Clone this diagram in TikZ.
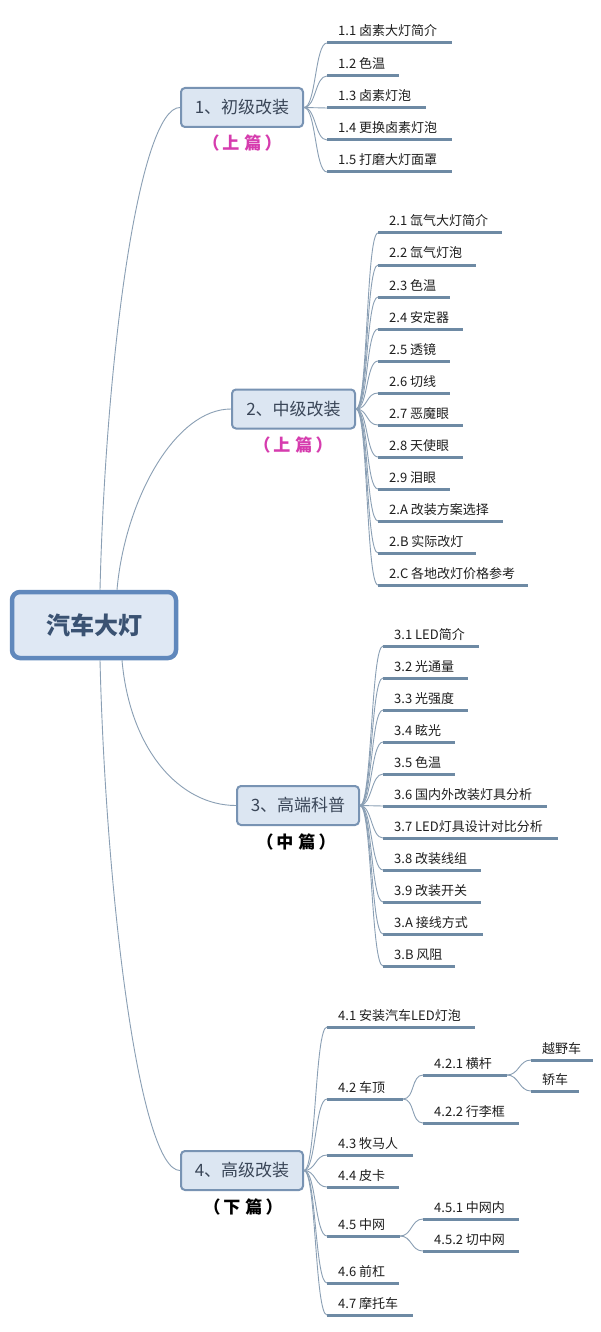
\documentclass[tikz,border=0pt]{standalone}
\usepackage{fontspec}
\setmainfont{Noto Sans CJK SC}
\usetikzlibrary{calc}
\definecolor{conncol}{HTML}{8A9FB4}
\definecolor{ulcol}{HTML}{6E8AA4}
\definecolor{boxfill}{HTML}{DCE6F2}
\definecolor{boxdraw}{HTML}{7893B3}
\definecolor{boxtext}{HTML}{3A4658}
\definecolor{rootfill}{HTML}{DFE8F4}
\definecolor{rootdraw}{HTML}{6088BC}
\definecolor{roottext}{HTML}{3A5272}
\definecolor{pinklbl}{HTML}{D63CAE}
\definecolor{leafcol}{HTML}{1E1E1E}
\newcommand\leaf[5]{%
  \coordinate (#1s) at (#2,#4);
  \coordinate (#1e) at (#3,#4);
  \draw[uline] (#1s) -- (#1e);
  \node[leaftext] (#1) at (#2+11,#4-7) {#5};
}
\newcommand\fan[2]{\draw[conn] (#1) .. controls +(12,0) and +(-12,0) .. (#2s);}
\newcommand\pian[1]{（\hspace{3pt}#1\hspace{3pt}）}
\begin{document}
\begin{tikzpicture}[x=1pt,y=-1pt,
  conn/.style={draw=conncol,line width=0.9pt},
  uline/.style={draw=ulcol,line width=3pt},
  leaftext/.style={anchor=base west,inner sep=0pt,font=\fontsize{13}{15}\selectfont,text=leafcol},
  topbox/.style={draw=boxdraw,fill=boxfill,line width=2pt,rounded corners=4pt,minimum height=39pt,inner sep=0pt,font=\fontsize{17}{20}\selectfont,text=boxtext},
  rootbox/.style={draw=rootdraw,fill=rootfill,line width=4.5pt,rounded corners=8pt,minimum width=164pt,minimum height=66pt,inner sep=0pt,font=\fontsize{24}{28}\selectfont\bfseries,text=roottext},
  sublbl/.style={inner sep=0pt,font=\fontsize{17}{19}\selectfont\bfseries}]
\useasboundingbox (0,0) rectangle (600,1332);
\fill[white] (0,0) rectangle (600,1332);

% root and main topics
\node[rootbox] (root) at (94,625) {汽车大灯};
\node[topbox,minimum width=122pt] (b1) at (242,107.5) {1、初级改装};
\node[topbox,minimum width=123pt] (b2) at (293.5,409) {2、中级改装};
\node[topbox,minimum width=122pt] (b3) at (298,805.5) {3、高端科普};
\node[topbox,minimum width=122pt] (b4) at (242,1170.5) {4、高级改装};

\node[sublbl,text=pinklbl] (lb1) at (242,143) {\pian{上\hspace{5pt}篇}};
\node[sublbl,text=pinklbl] (lb2) at (293,445) {\pian{上\hspace{5pt}篇}};
\node[sublbl,text=black] (lb3) at (296,842) {\pian{中\hspace{5pt}篇}};
\node[sublbl,text=black] (lb4) at (243,1207) {\pian{下\hspace{5pt}篇}};

% root connectors
\draw[conn] ($(root.north)+(6,0)$) .. controls +(6,-240) and +(-40,0) .. (b1.west);
\draw[conn] ($(root.north)+(23,0)$) .. controls +(8,-90) and +(-56,0) .. (b2.west);
\draw[conn] ($(root.south)+(28,0)$) .. controls +(8,90) and +(-56,0) .. (b3.west);
\draw[conn] ($(root.south)+(6,0)$) .. controls +(6,240) and +(-40,0) .. (b4.west);

% section 1
\leaf{l11}{327}{452}{43}{1.1 卤素大灯简介}
\leaf{l12}{327}{399}{76}{1.2 色温}
\leaf{l13}{327}{426}{108}{1.3 卤素灯泡}
\leaf{l14}{327}{452}{140}{1.4 更换卤素灯泡}
\leaf{l15}{327}{452}{172}{1.5 打磨大灯面罩}
\foreach \n in {l11,l12,l13,l14,l15} {\fan{b1.east}{\n}}

% section 2
\leaf{l21}{378}{502}{233}{2.1 氙气大灯简介}
\leaf{l22}{378}{476}{265}{2.2 氙气灯泡}
\leaf{l23}{378}{450}{297}{2.3 色温}
\leaf{l24}{378}{463}{329}{2.4 安定器}
\leaf{l25}{378}{450}{361}{2.5 透镜}
\leaf{l26}{378}{450}{393}{2.6 切线}
\leaf{l27}{378}{463}{425}{2.7 恶魔眼}
\leaf{l28}{378}{463}{457}{2.8 天使眼}
\leaf{l29}{378}{450}{489}{2.9 泪眼}
\leaf{l2A}{378}{503}{521}{2.A 改装方案选择}
\leaf{l2B}{378}{476}{553}{2.B 实际改灯}
\leaf{l2C}{378}{528}{585}{2.C 各地改灯价格参考}
\foreach \n in {l21,l22,l23,l24,l25,l26,l27,l28,l29,l2A,l2B,l2C} {\fan{b2.east}{\n}}

% section 3
\leaf{l31}{383}{479}{646}{3.1 LED简介}
\leaf{l32}{383}{468}{678}{3.2 光通量}
\leaf{l33}{383}{468}{710}{3.3 光强度}
\leaf{l34}{383}{455}{742}{3.4 眩光}
\leaf{l35}{383}{455}{774}{3.5 色温}
\leaf{l36}{383}{547}{806}{3.6 国内外改装灯具分析}
\leaf{l37}{383}{558}{838}{3.7 LED灯具设计对比分析}
\leaf{l38}{383}{481}{870}{3.8 改装线组}
\leaf{l39}{383}{481}{902}{3.9 改装开关}
\leaf{l3A}{383}{483}{934}{3.A 接线方式}
\leaf{l3B}{383}{455}{966}{3.B 风阻}
\foreach \n in {l31,l32,l33,l34,l35,l36,l37,l38,l39,l3A,l3B} {\fan{b3.east}{\n}}

% section 4
\leaf{l41}{327}{475}{1027}{4.1 安装汽车LED灯泡}
\leaf{l42}{327}{403}{1099}{4.2 车顶}
\leaf{l43}{327}{413}{1155}{4.3 牧马人}
\leaf{l44}{327}{399}{1187}{4.4 皮卡}
\leaf{l45}{327}{400}{1236}{4.5 中网}
\leaf{l46}{327}{399}{1283}{4.6 前杠}
\leaf{l47}{327}{413}{1315}{4.7 摩托车}
\foreach \n in {l41,l42,l43,l44,l45,l46,l47} {\fan{b4.east}{\n}}

\leaf{l421}{423}{507}{1075}{4.2.1 横杆}
\leaf{l422}{423}{519}{1123}{4.2.2 行李框}
\fan{l42e}{l421}
\fan{l42e}{l422}
\leaf{l4211}{531}{593}{1060}{越野车}
\leaf{l4212}{531}{579}{1091}{轿车}
\fan{l421e}{l4211}
\fan{l421e}{l4212}
\leaf{l451}{423}{519}{1219}{4.5.1 中网内}
\leaf{l452}{423}{519}{1251}{4.5.2 切中网}
\fan{l45e}{l451}
\fan{l45e}{l452}
\end{tikzpicture}
\end{document}
